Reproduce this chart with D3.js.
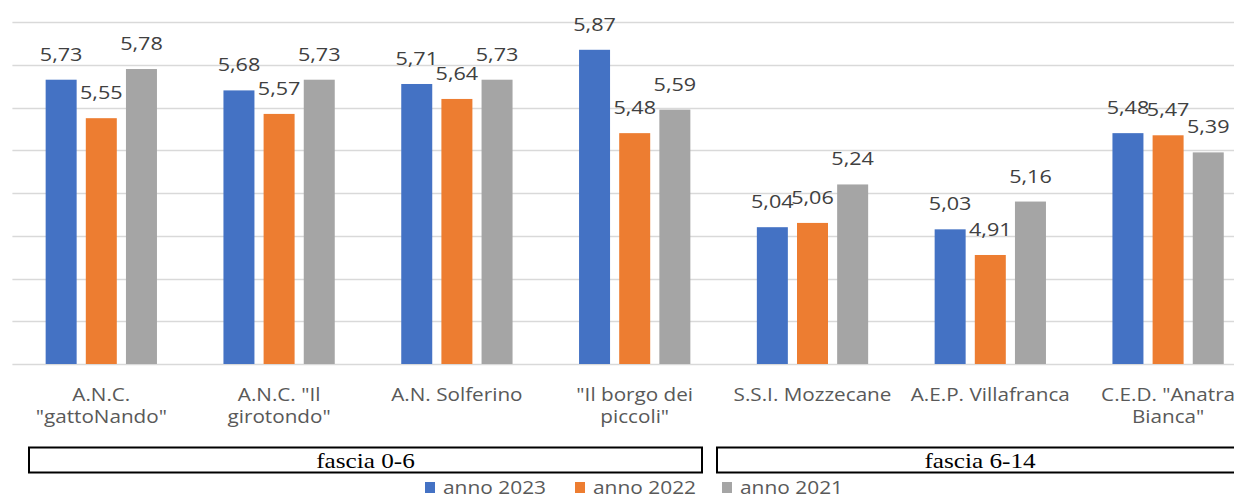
<!DOCTYPE html>
<html>
<head>
<meta charset="utf-8">
<script src="https://cdn.jsdelivr.net/npm/d3@7"></script>
<style>
  body { margin: 0; background: #fff; }
  svg { display: block; }
  .val { font-family: "Open Sans", sans-serif; font-size: 18px; fill: #404040; }
  .cat { font-family: "Open Sans", sans-serif; font-size: 18px; fill: #595959; }
  .leg { font-family: "Open Sans", sans-serif; font-size: 19px; fill: #595959; }
  .grp { font-family: "Liberation Serif", serif; font-size: 21px; fill: #000; }
</style>
</head>
<body>
<div id="chart"></div>
<script>
// data
const categories = ['A.N.C.\n"gattoNando"', 'A.N.C. "Il\ngirotondo"', 'A.N. Solferino', '"Il borgo dei\npiccoli"', 'S.S.I. Mozzecane', 'A.E.P. Villafranca', 'C.E.D. "Anatra\nBianca"'];
const seriesNames = ['anno 2023', 'anno 2022', 'anno 2021'];
const anno2023 = [5.73, 5.68, 5.71, 5.87, 5.04, 5.03, 5.48];
const anno2022 = [5.55, 5.57, 5.64, 5.48, 5.06, 4.91, 5.47];
const anno2021 = [5.78, 5.73, 5.73, 5.59, 5.24, 5.16, 5.39];
const groupLabels = ['fascia 0-6', 'fascia 6-14'];
const groupFrom = [0, 4];
const groupTo = [3, 6];

const colors = ['#4472C4', '#ED7D31', '#A5A5A5'];
const seriesValues = [anno2023, anno2022, anno2021];

const width = 1234, height = 496;
const plotLeft = 12.4, step = 177.8;
const plotTop = 22, plotBottom = 364;

const svg = d3.select('#chart').append('svg')
  .attr('width', width)
  .attr('height', height);

const x0 = d3.scaleBand()
  .domain(d3.range(categories.length))
  .range([plotLeft, plotLeft + step * categories.length])
  .paddingInner(0.374)
  .paddingOuter(0.187);

const x1 = d3.scaleBand()
  .domain(d3.range(seriesNames.length))
  .range([0, x0.bandwidth()])
  .paddingInner(0.228);

const y = d3.scaleLinear()
  .domain([4.4, 6.0])
  .range([plotBottom, plotTop]);

const it = d3.formatLocale({decimal: ',', thousands: '.', grouping: [3], currency: ['€', '']});
const fmt = it.format('.2f');

// gridlines
svg.append('g')
  .selectAll('line')
  .data(y.ticks(8))
  .enter().append('line')
  .attr('x1', plotLeft)
  .attr('x2', width)
  .attr('y1', d => Math.round(y(d)) + 0.5)
  .attr('y2', d => Math.round(y(d)) + 0.5)
  .attr('stroke', '#d9d9d9')
  .attr('stroke-width', 1.5);

// bars
const groups = svg.selectAll('g.cat-g')
  .data(categories.map((c, i) => seriesValues.map((s, j) => ({i: i, j: j, v: s[i]}))))
  .enter().append('g')
  .attr('class', 'cat-g')
  .attr('transform', (d, i) => 'translate(' + x0(i) + ',0)');

groups.selectAll('rect')
  .data(d => d)
  .enter().append('rect')
  .attr('x', d => x1(d.j))
  .attr('width', x1.bandwidth())
  .attr('y', d => y(d.v))
  .attr('height', d => plotBottom - y(d.v))
  .attr('fill', d => colors[d.j]);

groups.selectAll('text.val')
  .data(d => d)
  .enter().append('text')
  .attr('class', 'val')
  .attr('text-anchor', 'middle')
  .attr('transform', d => 'translate(' + (x1(d.j) + x1.bandwidth() / 2) + ',' + (y(d.v) - 19) + ') scale(1.2,1)')
  .text(d => fmt(d.v));

// category labels
const catText = svg.append('g').selectAll('text')
  .data(categories)
  .enter().append('text')
  .attr('class', 'cat')
  .attr('text-anchor', 'middle')
  .attr('transform', (d, i) => 'translate(' + (x0(i) + x0.bandwidth() / 2) + ',401) scale(1.15,1)');

catText.selectAll('tspan')
  .data(d => d.split('\n'))
  .enter().append('tspan')
  .attr('x', 0)
  .attr('y', (d, k) => k * 22.5)
  .text(d => d);

// group boxes under the axis
const boxInset = [[16.6, -21.6], [-6.6, -14]];
const boxes = svg.append('g').selectAll('g')
  .data(groupLabels)
  .enter().append('g');

boxes.append('rect')
  .attr('x', (d, k) => x0(groupFrom[k]) - x0.step() * x0.paddingOuter() + boxInset[k][0])
  .attr('y', 447.5)
  .attr('width', (d, k) => (groupTo[k] - groupFrom[k] + 1) * x0.step() - boxInset[k][0] + boxInset[k][1])
  .attr('height', 25)
  .attr('fill', 'none')
  .attr('stroke', '#000')
  .attr('stroke-width', 2);

boxes.append('text')
  .attr('class', 'grp')
  .attr('text-anchor', 'middle')
  .attr('transform', (d, k) => {
    let left = x0(groupFrom[k]) - x0.step() * x0.paddingOuter() + boxInset[k][0];
    let w = (groupTo[k] - groupFrom[k] + 1) * x0.step() - boxInset[k][0] + boxInset[k][1];
    return 'translate(' + (left + w / 2) + ',468) scale(1.2,1)';
  })
  .text(d => d);

// legend
const legX = [425, 575, 722];
const legend = svg.append('g').selectAll('g')
  .data(seriesNames)
  .enter().append('g')
  .attr('transform', (d, j) => 'translate(' + legX[j] + ',0)');

legend.append('rect')
  .attr('x', 0)
  .attr('y', 482)
  .attr('width', 10)
  .attr('height', 11)
  .attr('fill', (d, j) => colors[j]);

legend.append('text')
  .attr('class', 'leg')
  .attr('transform', 'translate(18,494) scale(1.1,1)')
  .text(d => d);
</script>
</body>
</html>
